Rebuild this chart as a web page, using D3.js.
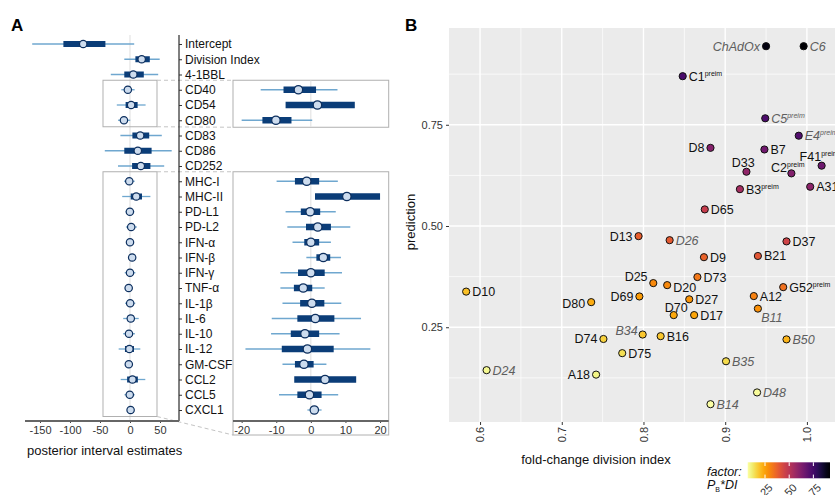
<!DOCTYPE html>
<html>
<head>
<meta charset="utf-8">
<script src="https://cdn.jsdelivr.net/npm/d3@7"></script>
<style>
  body { margin: 0; background: #fff; }
  svg { font-family: "Liberation Sans", Arial, sans-serif; display: block; }
</style>
</head>
<body>
<svg id="fig" width="835" height="495"></svg>
<script>
// ---- panel A: posterior interval estimates ----
const terms = ["Intercept", "Division Index", "4-1BBL", "CD40", "CD54", "CD80", "CD83", "CD86", "CD252",
    "MHC-I", "MHC-II", "PD-L1", "PD-L2", "IFN-α", "IFN-β", "IFN-γ", "TNF-α", "IL-1β", "IL-6", "IL-10",
    "IL-12", "GM-CSF", "CCL2", "CCL5", "CXCL1"];
const est  = [-78, 19.5, 5.5, -3.6, 1.9, -10.1, 17, 13, 18, -1.2, 10.4, -0.2, 2.0, 0, 3.6, 0, -2.2, 0.3, 1.3, -1.7, -1.0, -2.0, 4.1, -0.4, 1.0];
const lo50 = [-111, 9, -9.5, -7.9, -7.3, -14, 4, -9.5, 3.5, -4.6, 1.2, -2.9, -1.4, -1.9, 1.6, -3.7, -4.9, -3.1, -3.9, -5.8, -8.4, -4.6, -4.8, -3.9, 0.2];
const hi50 = [-41, 33, 23, 1.5, 12.7, -5.6, 32, 36, 34, 2.4, 20, 2.7, 5.8, 2.4, 5.6, 4.0, 0.4, 3.9, 6.8, 2.4, 6.6, 0.8, 13.1, 3.1, 1.8];
const lo95 = [-163, -9.5, -32, -14.5, -22, -20, -16, -42, -20, -9.9, -13, -7.3, -6.8, -5.3, -1.3, -8.8, -8.8, -8.2, -11.3, -11.5, -18.9, -8.2, -15.5, -9.2, -1.0];
const hi95 = [7, 49.5, 47, 7.7, 26, 0.4, 53, 69.5, 57, 7.8, 34, 7.2, 11.4, 5.8, 8.7, 9.0, 4.0, 8.8, 14.5, 8.3, 17.2, 4.5, 25.5, 7.9, 3.1];
const mainTicks = [-150, -100, -50, 0, 50];
const insetTicks = [-20, -10, 0, 10, 20];
const insetGroups = [["CD40", "CD80"], ["MHC-I", "CXCL1"]];

// ---- panel B: prediction vs fold-change division index ----
const cand = ["ChAdOx", "C6", "C1", "C5", "E4", "D8", "B7", "F41", "D33", "C2", "B3", "A31", "D65", "D13", "D26",
    "D37", "D9", "B21", "D25", "D73", "D20", "D10", "G52", "D69", "A12", "D80", "D27", "B11", "D70", "D17",
    "B34", "B16", "D74", "B50", "D75", "B35", "D24", "A18", "D48", "B14"];
const foldDI = [0.950, 0.996, 0.848, 0.949, 0.990, 0.882, 0.948, 1.018, 0.926, 0.981, 0.918, 1.004, 0.875, 0.794, 0.832,
    0.975, 0.874, 0.940, 0.812, 0.866, 0.829, 0.583, 0.971, 0.795, 0.935, 0.736, 0.856, 0.940, 0.837, 0.862,
    0.799, 0.821, 0.751, 0.975, 0.774, 0.901, 0.608, 0.742, 0.939, 0.882];
const prediction = [0.944, 0.944, 0.870, 0.766, 0.723, 0.693, 0.689, 0.649, 0.634, 0.630, 0.591, 0.597, 0.541, 0.475, 0.465,
    0.462, 0.423, 0.426, 0.359, 0.374, 0.354, 0.338, 0.349, 0.326, 0.327, 0.312, 0.319, 0.296, 0.280, 0.280,
    0.232, 0.228, 0.221, 0.220, 0.186, 0.166, 0.144, 0.133, 0.089, 0.060];
const factor = [0.897, 0.940, 0.738, 0.727, 0.716, 0.611, 0.653, 0.661, 0.587, 0.618, 0.543, 0.599, 0.473, 0.377, 0.387,
    0.450, 0.370, 0.400, 0.292, 0.324, 0.293, 0.197, 0.339, 0.259, 0.306, 0.230, 0.273, 0.278, 0.234, 0.241,
    0.185, 0.187, 0.166, 0.215, 0.144, 0.150, 0.088, 0.099, 0.084, 0.053];
const preim = ["C1", "C5", "E4", "F41", "C2", "B3", "G52"];
const validation = ["ChAdOx", "C6", "C5", "E4", "D26", "B11", "B34", "B50", "B35", "D24", "D48", "B14"];
const xTicksB = [0.6, 0.7, 0.8, 0.9, 1.0];
const yTicksB = [0.25, 0.5, 0.75];
const legendTicks = [0.25, 0.5, 0.75];

// label placement: [dx, dy, anchor]
const place = {
    r: [6, 4.5, "start"], l: [-6, 4.5, "end"],
    F41: [-22, -4.5, "start"], D33: [-14.6, -5, "start"], C2: [-20.3, -1.3, "start"],
    D25: [-5.7, -2.4, "end"], D20: [6, 6.6, "start"], D80: [-6, 6, "end"], B11: [3.3, 13, "start"],
    D70: [-9, -3, "start"], B34: [-5, 0.3, "end"]
};
const leftSide = ["ChAdOx", "D8", "D13", "D69", "D74", "A18"];

const svg = d3.select("#fig");

// ================= panel A =================
const gA = svg.append("g");
gA.append("text").attr("x", 11).attr("y", 31).attr("font-size", 17).attr("font-weight", "bold").text("A");

const xMain = d3.scaleLinear().domain([-175, 81.67]).range([25, 179]);
const yRow = d3.scalePoint().domain(terms).range([44, 410]);
const xIn = d3.scaleLinear().domain([-22.5, 22.5]).range([233, 388.7]);

const rows = terms.map((t, i) => ({ t, est: est[i], lo50: lo50[i], hi50: hi50[i], lo95: lo95[i], hi95: hi95[i] }));

// zero line
gA.append("line").attr("x1", xMain(0)).attr("x2", xMain(0)).attr("y1", 35).attr("y2", 421)
    .attr("stroke", "#dedede").attr("stroke-width", 1);

// inset frames on main + dashed connectors + inset boxes
insetGroups.forEach((grp, k) => {
    const y0 = yRow(grp[0]) - 9.5, y1 = yRow(grp[1]) + 6.5;
    const by1 = k === 1 ? 435 : y1 + 0.5;
    gA.append("rect").attr("x", xMain(-45)).attr("y", y0).attr("width", xMain(45) - xMain(-45)).attr("height", y1 - y0)
        .attr("fill", "none").attr("stroke", "#b0b0b0").attr("stroke-width", 1);
    gA.append("line").attr("x1", xMain(45)).attr("y1", y0).attr("x2", 233).attr("y2", y0)
        .attr("stroke", "#c4c4c4").attr("stroke-dasharray", "4,3");
    gA.append("line").attr("x1", xMain(45)).attr("y1", y1).attr("x2", 233).attr("y2", by1)
        .attr("stroke", "#c4c4c4").attr("stroke-dasharray", "4,3");
    gA.append("rect").attr("x", 233).attr("y", y0).attr("width", 155.7).attr("height", by1 - y0)
        .attr("fill", "#fff").attr("stroke", "#b0b0b0").attr("stroke-width", 1);
});

function drawIntervals(g, x, data, r, barH, dom) {
    const ok = (a, b) => !dom || (a >= dom[0] && b <= dom[1]);
    g.selectAll(".thin").data(data.filter(d => ok(d.lo95, d.hi95))).join("line")
        .attr("x1", d => x(d.lo95)).attr("x2", d => x(d.hi95))
        .attr("y1", d => yRow(d.t)).attr("y2", d => yRow(d.t))
        .attr("stroke", "#6fa7cf").attr("stroke-width", 1.3);
    g.selectAll(".thick").data(data.filter(d => ok(d.lo50, d.hi50))).join("rect")
        .attr("x", d => x(d.lo50)).attr("width", d => x(d.hi50) - x(d.lo50))
        .attr("y", d => yRow(d.t) - barH / 2).attr("height", barH)
        .attr("fill", "#0b3d78");
    g.selectAll(".pt").data(data).join("circle")
        .attr("cx", d => x(d.est)).attr("cy", d => yRow(d.t)).attr("r", r)
        .attr("fill", "#cddcee").attr("stroke", "#0d2f5e").attr("stroke-width", 1.2);
}

drawIntervals(gA.append("g"), xMain, rows, 3.7, 6, null);

// insets
insetGroups.forEach(grp => {
    const sub = rows.slice(terms.indexOf(grp[0]), terms.indexOf(grp[1]) + 1);
    const g = gA.append("g");
    g.append("line").attr("x1", xIn(0)).attr("x2", xIn(0))
        .attr("y1", yRow(grp[0]) - 9.5).attr("y2", yRow(grp[1]) + 6.5)
        .attr("stroke", "#dedede");
    drawIntervals(g, xIn, sub, 4.2, 6.5, xIn.domain());
});

// y axis with labels
gA.append("line").attr("x1", 179).attr("x2", 179).attr("y1", 35).attr("y2", 421).attr("stroke", "#000").attr("stroke-width", 1);
const yAx = gA.append("g").attr("transform", "translate(179,0)")
    .call(d3.axisRight(yRow).tickSize(3).tickPadding(3));
yAx.select(".domain").remove();
yAx.selectAll(".tick line").attr("stroke", "#333");
yAx.selectAll(".tick text").attr("font-size", 12).attr("fill", "#111").attr("font-family", null);

// x axes
function bottomAxis(x, ticks, x0, x1) {
    const ax = gA.append("g").attr("transform", "translate(0,421)")
        .call(d3.axisBottom(x).tickValues(ticks).tickSize(2).tickPadding(3).tickFormat(String));
    ax.select(".domain").remove();
    ax.selectAll(".tick line").attr("stroke", "#444");
    ax.selectAll(".tick text").attr("font-size", 11).attr("fill", "#333").attr("font-family", null);
    gA.append("line").attr("x1", x0).attr("x2", x1).attr("y1", 421).attr("y2", 421)
        .attr("stroke", "#666").attr("stroke-width", 2);
}
bottomAxis(xMain, mainTicks, 25, 179);
bottomAxis(xIn, insetTicks, 233, 388.7);

gA.append("text").attr("x", 27).attr("y", 455).attr("font-size", 13).attr("fill", "#111")
    .text("posterior interval estimates");

// ================= panel B =================
const gB = svg.append("g");
gB.append("text").attr("x", 405).attr("y", 31).attr("font-size", 17).attr("font-weight", "bold").text("B");

const xB = d3.scaleLinear().domain([0.562, 1.04]).range([449, 839.6]);
const yB = d3.scaleLinear().domain([0.016, 0.989]).range([422, 28]);
const colour = d3.scaleSequential(t => d3.interpolateInferno(1 - t)).domain([0.071, 0.922]).clamp(true);

const [px0, px1] = xB.range(), [py1, py0] = yB.range();
gB.append("rect").attr("x", px0).attr("y", py0).attr("width", px1 - px0).attr("height", py1 - py0).attr("fill", "#ebebeb");

const xMinor = [0.65, 0.75, 0.85, 0.95], yMinor = [0.125, 0.375, 0.625, 0.875];
gB.selectAll(".vminor").data(xMinor).join("line")
    .attr("x1", d => xB(d)).attr("x2", d => xB(d)).attr("y1", py0).attr("y2", py1)
    .attr("stroke", "#fff").attr("stroke-width", 0.7);
gB.selectAll(".hminor").data(yMinor).join("line")
    .attr("y1", d => yB(d)).attr("y2", d => yB(d)).attr("x1", px0).attr("x2", px1)
    .attr("stroke", "#fff").attr("stroke-width", 0.7);
gB.selectAll(".vmajor").data(xTicksB).join("line")
    .attr("x1", d => xB(d)).attr("x2", d => xB(d)).attr("y1", py0).attr("y2", py1)
    .attr("stroke", "#fff").attr("stroke-width", 1.4);
gB.selectAll(".hmajor").data(yTicksB).join("line")
    .attr("y1", d => yB(d)).attr("y2", d => yB(d)).attr("x1", px0).attr("x2", px1)
    .attr("stroke", "#fff").attr("stroke-width", 1.4);

// axes
const axL = gB.append("g").attr("transform", `translate(${px0},0)`)
    .call(d3.axisLeft(yB).tickValues(yTicksB).tickSize(3).tickPadding(3).tickFormat(d3.format(".2f")));
axL.select(".domain").remove();
axL.selectAll(".tick line").attr("stroke", "#333");
axL.selectAll(".tick text").attr("font-size", 11).attr("fill", "#333").attr("font-family", null);

const axB = gB.append("g").attr("transform", `translate(0,${py1})`)
    .call(d3.axisBottom(xB).tickValues(xTicksB).tickSize(3).tickFormat(d3.format(".1f")));
axB.select(".domain").remove();
axB.selectAll(".tick line").attr("stroke", "#333");
axB.selectAll(".tick text").attr("font-size", 11).attr("fill", "#333").attr("font-family", null)
    .attr("transform", "rotate(-90)").attr("text-anchor", "end")
    .attr("x", -5).attr("y", 0).attr("dy", "0.35em");

gB.append("text").attr("x", 596).attr("y", 464).attr("text-anchor", "middle").attr("font-size", 13).attr("fill", "#111")
    .text("fold-change division index");
gB.append("text").attr("transform", "translate(415,222) rotate(-90)").attr("text-anchor", "middle")
    .attr("font-size", 13).attr("fill", "#111").text("prediction");

// points
const pts = cand.map((n, i) => ({ n, x: foldDI[i], y: prediction[i], f: factor[i] }));
gB.selectAll(".cand").data(pts).join("circle")
    .attr("cx", d => xB(d.x)).attr("cy", d => yB(d.y)).attr("r", 3.6)
    .attr("fill", d => colour(d.f)).attr("stroke", "#111").attr("stroke-width", 1);

// labels
pts.forEach(d => {
    const p = place[d.n] || (leftSide.includes(d.n) ? place.l : place.r);
    const ital = validation.includes(d.n);
    const t = gB.append("text")
        .attr("x", xB(d.x) + p[0]).attr("y", yB(d.y) + p[1]).attr("text-anchor", p[2])
        .attr("font-size", 12.5).attr("fill", ital ? "#5e5e5e" : "#111")
        .attr("font-style", ital ? "italic" : null);
    t.append("tspan").text(d.n);
    if (preim.includes(d.n)) t.append("tspan").attr("font-size", 7).attr("dy", -5).text("preim");
});

// legend
const lg = gB.append("g");
const grad = svg.append("defs").append("linearGradient").attr("id", "infgrad");
d3.range(0, 1.0001, 0.05).forEach(s => {
    const v = colour.domain()[0] + s * (colour.domain()[1] - colour.domain()[0]);
    grad.append("stop").attr("offset", s).attr("stop-color", colour(v));
});
const xLeg = d3.scaleLinear().domain(colour.domain()).range([747.7, 830]);
lg.append("rect").attr("x", 747.7).attr("y", 462.3).attr("width", 82.3).attr("height", 16).attr("fill", "url(#infgrad)");
lg.selectAll(".lt").data(legendTicks).join("line")
    .attr("x1", d => xLeg(d)).attr("x2", d => xLeg(d)).attr("y1", 462.3).attr("y2", 466)
    .attr("stroke", "#fff").attr("stroke-width", 1);
lg.selectAll(".lb").data(legendTicks).join("line")
    .attr("x1", d => xLeg(d)).attr("x2", d => xLeg(d)).attr("y1", 474.6).attr("y2", 478.3)
    .attr("stroke", "#fff").attr("stroke-width", 1);
lg.selectAll(".ltx").data(legendTicks).join("text")
    .attr("transform", d => `translate(${xLeg(d) + 3},483) rotate(-45)`)
    .attr("text-anchor", "end").attr("dy", "0.7em").attr("font-size", 11).attr("fill", "#333")
    .text(d3.format(".2f"));
lg.append("text").attr("x", 707).attr("y", 476).attr("font-size", 12.5).attr("font-style", "italic").attr("fill", "#111").text("factor:");
const pb = lg.append("text").attr("x", 707).attr("y", 489).attr("font-size", 12.5).attr("font-style", "italic").attr("fill", "#111");
pb.append("tspan").text("P");
pb.append("tspan").attr("font-size", 7).attr("dy", 2.5).attr("font-style", "normal").text("B");
pb.append("tspan").attr("dy", -2.5).text("*DI");
</script>
</body>
</html>
